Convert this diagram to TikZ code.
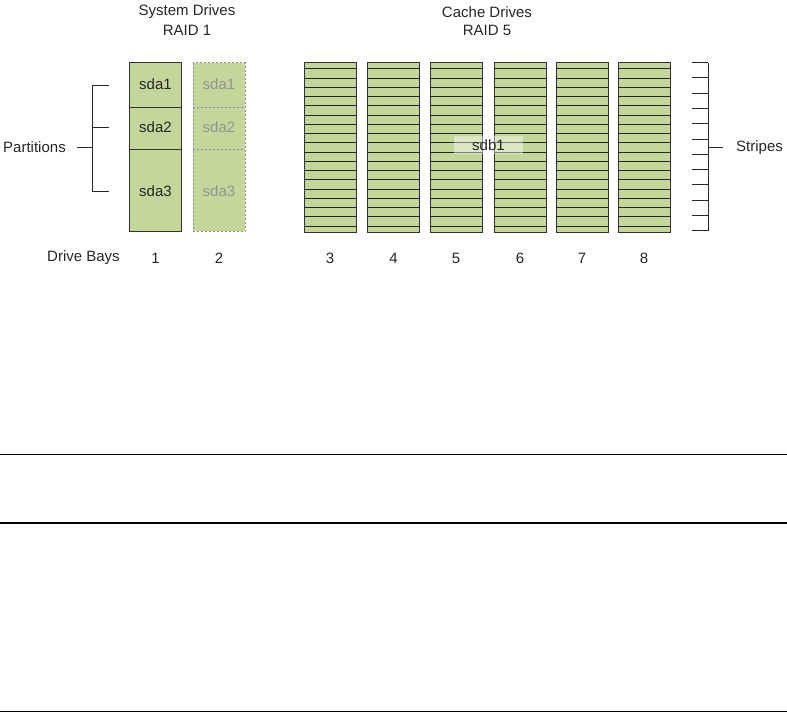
\documentclass[tikz,border=0pt]{standalone}
\usepackage{fontspec}
\setmainfont{Liberation Sans}
\begin{document}
\begin{tikzpicture}[x=1pt,y=-1pt,
  lbl/.style={font=\fontsize{15}{17}\selectfont, text=black!85, inner sep=0pt},
  graylbl/.style={lbl, text=black!42},
  drivebox/.style={fill=drivegreen, draw=black!80, line width=1pt},
  mirrorbox/.style={fill=drivegreen, draw=black!45, dashed, dash pattern=on 2pt off 2pt, line width=0.9pt},
  stripeline/.style={draw=black!85, line width=0.9pt},
  brk/.style={draw=black!85, line width=0.9pt},
  rule/.style={draw=black}]
\definecolor{drivegreen}{HTML}{C4D79B}
\useasboundingbox (0,0) rectangle (787,712);
% titles
\node[lbl] (sys1) at (187,12) {System Drives};
\node[lbl] (sys2) at (187,30) {RAID 1};
\node[lbl] (cac1) at (487,12) {Cache Drives};
\node[lbl] (cac2) at (487,30) {RAID 5};
% system drive 1
\draw[drivebox] (129.5,62.5) rectangle (181.5,231);
\draw[drivebox] (129.5,107) -- (181.5,107);
\draw[drivebox] (129.5,149.5) -- (181.5,149.5);
\node[lbl] (sda1) at (155.5,84) {sda1};
\node[lbl] (sda2) at (155.5,127.5) {sda2};
\node[lbl] (sda3) at (155.5,191) {sda3};
% system drive 2 (mirror)
\draw[mirrorbox] (193,62.5) rectangle (245,231);
\draw[mirrorbox] (193,107) -- (245,107);
\draw[mirrorbox] (193,149.5) -- (245,149.5);
\node[graylbl] (mda1) at (219,84) {sda1};
\node[graylbl] (mda2) at (219,127.5) {sda2};
\node[graylbl] (mda3) at (219,191) {sda3};
% partitions bracket
\coordinate (pt1) at (109,85);
\coordinate (pt2) at (109,127.5);
\coordinate (pt3) at (109,191);
\coordinate (pb1) at (92,85);
\coordinate (pb2) at (92,127.5);
\coordinate (pb3) at (92,191);
\coordinate (pm) at (92,147.5);
\coordinate (pme) at (77,147.5);
\node[lbl] (parts) at (34.5,147.5) {Partitions};
\draw[brk] (pt1) -- (pb1) -- (pb3) -- (pt3);
\draw[brk] (pt2) -- (pb2);
\draw[brk] (pme) -- (pm);
% cache drives
\foreach \x in {304,367.5,430,494,556,618}{
  \draw[drivebox] (\x,62.5) rectangle (\x+52,232);
  \foreach \k in {0,...,17}{
    \draw[stripeline] (\x,68.7+9.25*\k) -- (\x+52,68.7+9.25*\k);
  }
}
% sdb1 label
\fill[white, opacity=0.4] (454,135.5) rectangle (523,154);
\node[lbl] (sdb1) at (488.5,145) {sdb1};
% stripes bracket
\foreach \k in {0,...,11}{
  \draw[brk] (692,62.5+15.3*\k) -- (708,62.5+15.3*\k);
}
\draw[brk] (708,62.5) -- (708,231);
\coordinate (sb) at (708,147.5);
\coordinate (sbe) at (723,147.5);
\node[lbl, anchor=west] (stripes) at (736,147.5) {Stripes};
\draw[brk] (sb) -- (sbe);
% drive bays
\node[lbl] (bays) at (83.5,258) {Drive Bays};
\node[lbl] (b1) at (155.5,258) {1};
\node[lbl] (b2) at (219,258) {2};
\node[lbl] (b3) at (330,258) {3};
\node[lbl] (b4) at (393.5,258) {4};
\node[lbl] (b5) at (456,258) {5};
\node[lbl] (b6) at (520,258) {6};
\node[lbl] (b7) at (582,258) {7};
\node[lbl] (b8) at (644,258) {8};
% horizontal rules
\draw[rule, line width=1pt] (0,454.3) -- (787,454.3);
\draw[rule, line width=2pt] (0,522.5) -- (787,522.5);
\draw[rule, line width=1.2pt] (0,711.3) -- (787,711.3);
\end{tikzpicture}
\end{document}
